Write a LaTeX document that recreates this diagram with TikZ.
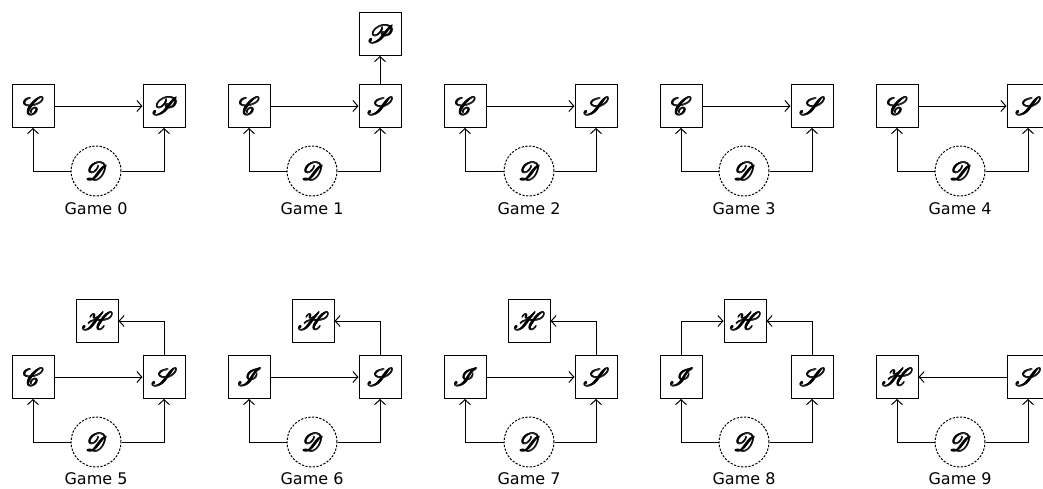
\documentclass[tikz,border=0pt]{standalone}
\usepackage{fontspec}
\usepackage{mathrsfs}
\setmainfont{DejaVu Sans}
\usetikzlibrary{arrows.meta}
% heavy script letter: several slightly shifted copies of the same glyph
\newcommand\fatglyph[1]{\leavevmode
  \rlap{\hspace{0.7pt}$\mathscr{#1}$}%
  \rlap{\raisebox{0.7pt}{$\mathscr{#1}$}}%
  \rlap{\hspace{0.7pt}\raisebox{0.7pt}{$\mathscr{#1}$}}%
  \rlap{\hspace{0.35pt}\raisebox{0.35pt}{$\mathscr{#1}$}}%
  $\mathscr{#1}$}
\begin{document}
\begin{tikzpicture}[x=1pt,y=-1pt,
  box/.style={draw,line width=1pt,minimum width=42pt,minimum height=43pt,inner sep=0pt,font=\Huge},
  dnode/.style={draw,circle,dash pattern=on 2.2pt off 1.5pt,line width=1pt,minimum size=50pt,inner sep=0pt,font=\Huge},
  link/.style={line width=1pt,-{Straight Barb[length=5pt,width=11pt]}},
  caption/.style={font=\fontsize{16}{18}\selectfont}]
\useasboundingbox (0,0) rectangle (1043,488);

% ---------- Game 0 ----------
\node[box] (c0) at (33,106) {\fatglyph{C}};
\node[box] (p0) at (164,106) {\fatglyph{P}};
\node[dnode] (d0) at (96,171) {\fatglyph{D}};
\node[caption] (g0) at (96,209) {Game 0};
\draw[link] (c0) -- (p0);
\draw[link] (d0.west) -| (c0.south);
\draw[link] (d0.east) -| (p0.south);

% ---------- Game 1 ----------
\node[box] (c1) at (249,106) {\fatglyph{C}};
\node[box] (s1) at (380,106) {\fatglyph{S}};
\node[box] (p1) at (380,34) {\fatglyph{P}};
\node[dnode] (d1) at (312,171) {\fatglyph{D}};
\node[caption] (g1) at (312,209) {Game 1};
\draw[link] (c1) -- (s1);
\draw[link] (s1) -- (p1);
\draw[link] (d1.west) -| (c1.south);
\draw[link] (d1.east) -| (s1.south);

% ---------- Game 2 ----------
\node[box] (c2) at (465,106) {\fatglyph{C}};
\node[box] (s2) at (596,106) {\fatglyph{S}};
\node[dnode] (d2) at (529,171) {\fatglyph{D}};
\node[caption] (g2) at (529,209) {Game 2};
\draw[link] (c2) -- (s2);
\draw[link] (d2.west) -| (c2.south);
\draw[link] (d2.east) -| (s2.south);

% ---------- Game 3 ----------
\node[box] (c3) at (681,106) {\fatglyph{C}};
\node[box] (s3) at (812,106) {\fatglyph{S}};
\node[dnode] (d3) at (744,171) {\fatglyph{D}};
\node[caption] (g3) at (744,209) {Game 3};
\draw[link] (c3) -- (s3);
\draw[link] (d3.west) -| (c3.south);
\draw[link] (d3.east) -| (s3.south);

% ---------- Game 4 ----------
\node[box] (c4) at (897,106) {\fatglyph{C}};
\node[box] (s4) at (1028,106) {\fatglyph{S}};
\node[dnode] (d4) at (960,171) {\fatglyph{D}};
\node[caption] (g4) at (960,209) {Game 4};
\draw[link] (c4) -- (s4);
\draw[link] (d4.west) -| (c4.south);
\draw[link] (d4.east) -| (s4.south);

% ---------- Game 5 ----------
\node[box] (c5) at (33,377) {\fatglyph{C}};
\node[box] (s5) at (164,377) {\fatglyph{S}};
\node[box] (h5) at (97,321) {\fatglyph{H}};
\node[dnode] (d5) at (96,442) {\fatglyph{D}};
\node[caption] (g5) at (96,479) {Game 5};
\draw[link] (c5) -- (s5);
\draw[link] (s5.north) |- (h5.east);
\draw[link] (d5.west) -| (c5.south);
\draw[link] (d5.east) -| (s5.south);

% ---------- Game 6 ----------
\node[box] (i6) at (249,377) {\fatglyph{I}};
\node[box] (s6) at (380,377) {\fatglyph{S}};
\node[box] (h6) at (313,321) {\fatglyph{H}};
\node[dnode] (d6) at (312,442) {\fatglyph{D}};
\node[caption] (g6) at (312,479) {Game 6};
\draw[link] (i6) -- (s6);
\draw[link] (s6.north) |- (h6.east);
\draw[link] (d6.west) -| (i6.south);
\draw[link] (d6.east) -| (s6.south);

% ---------- Game 7 ----------
\node[box] (i7) at (465,377) {\fatglyph{I}};
\node[box] (s7) at (596,377) {\fatglyph{S}};
\node[box] (h7) at (529,321) {\fatglyph{H}};
\node[dnode] (d7) at (529,442) {\fatglyph{D}};
\node[caption] (g7) at (529,479) {Game 7};
\draw[link] (i7) -- (s7);
\draw[link] (s7.north) |- (h7.east);
\draw[link] (d7.west) -| (i7.south);
\draw[link] (d7.east) -| (s7.south);

% ---------- Game 8 ----------
\node[box] (i8) at (681,377) {\fatglyph{I}};
\node[box] (s8) at (812,377) {\fatglyph{S}};
\node[box] (h8) at (745,321) {\fatglyph{H}};
\node[dnode] (d8) at (744,442) {\fatglyph{D}};
\node[caption] (g8) at (744,479) {Game 8};
\draw[link] (i8.north) |- (h8.west);
\draw[link] (s8.north) |- (h8.east);
\draw[link] (d8.west) -| (i8.south);
\draw[link] (d8.east) -| (s8.south);

% ---------- Game 9 ----------
\node[box] (h9) at (897,377) {\fatglyph{H}};
\node[box] (s9) at (1028,377) {\fatglyph{S}};
\node[dnode] (d9) at (960,442) {\fatglyph{D}};
\node[caption] (g9) at (960,479) {Game 9};
\draw[link] (s9) -- (h9);
\draw[link] (d9.west) -| (h9.south);
\draw[link] (d9.east) -| (s9.south);
\end{tikzpicture}
\end{document}
